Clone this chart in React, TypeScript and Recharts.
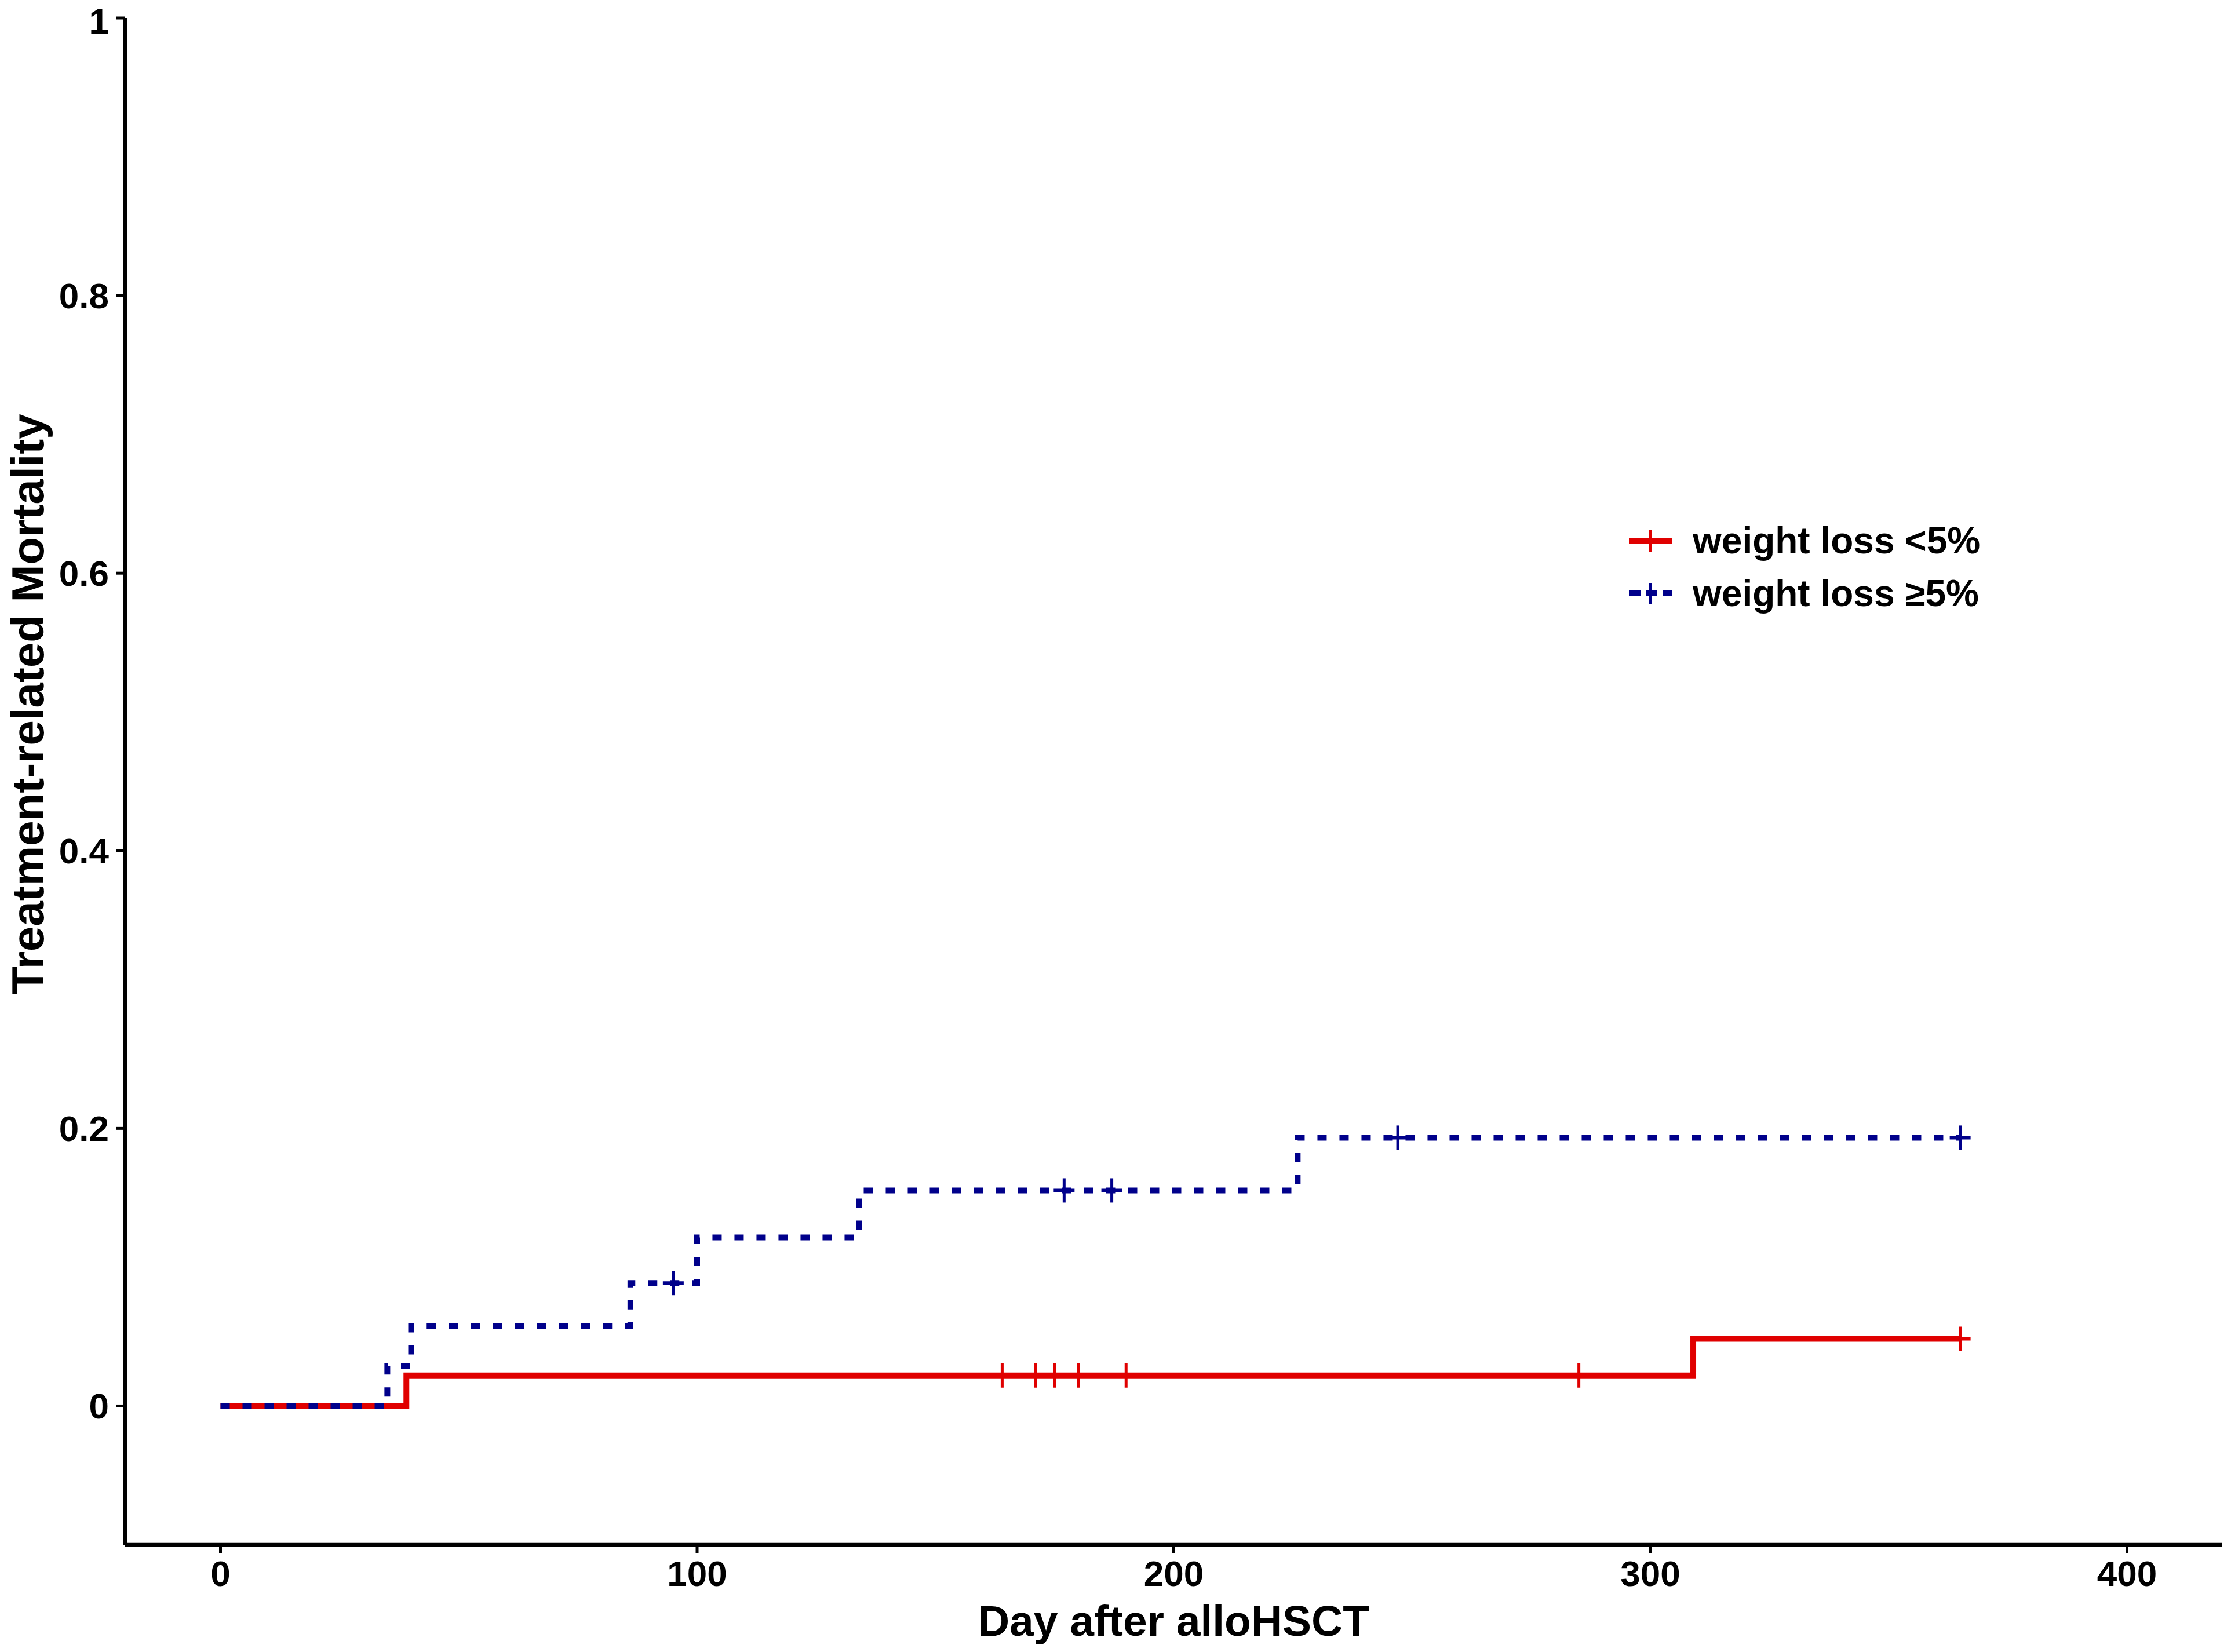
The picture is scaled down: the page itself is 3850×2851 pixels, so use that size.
import React from "react";
import {
  ComposedChart,
  Line,
  Scatter,
  XAxis,
  YAxis,
  Label,
} from "recharts";

// step points of the cumulative incidence curves (day, value)
const daysLow = [0, 39, 309, 365];
const trmLow = [0, 0.022, 0.0484, 0.0484];
const daysHigh = [0, 35, 40, 86, 100, 134, 226, 365];
const trmHigh = [0, 0.0286, 0.0577, 0.0886, 0.1215, 0.1553, 0.1933, 0.1933];

// censoring times
const censorLow = [164, 171, 175, 180, 190, 285, 365];
const censorHigh = [95, 177, 187, 247, 365];

const xTicks = [0, 100, 200, 300, 400];
const yTicks = [0, 0.2, 0.4, 0.6, 0.8, 1];

const RED = "#e00000";
const BLUE = "#00008b";
const FONT = "'Liberation Sans', Arial, sans-serif";

function valueAt(days: number[], vals: number[], t: number): number {
  let v = vals[0];
  for (let i = 0; i < days.length; i++) if (days[i] <= t) v = vals[i];
  return v;
}

const lowData = daysLow.map((x, i) => ({ x, y: trmLow[i] }));
const highData = daysHigh.map((x, i) => ({ x, y: trmHigh[i] }));
const lowCensor = censorLow.map((x) => ({ x, y: valueAt(daysLow, trmLow, x) }));
const highCensor = censorHigh.map((x) => ({ x, y: valueAt(daysHigh, trmHigh, x) }));

function censorMark(color: string) {
  return (props: any) => {
    const { cx, cy } = props;
    if (cx == null || cy == null) return <g />;
    return (
      <g>
        <line x1={cx} x2={cx} y1={cy - 21} y2={cy + 21} stroke={color} strokeWidth={5} />
        <line x1={cx - 18} x2={cx + 18} y1={cy} y2={cy} stroke={color} strokeWidth={6} />
      </g>
    );
  };
}

function KeyLegend() {
  return (
    <svg width={720} height={200}>
      <line x1={21} x2={95} y1={53} y2={53} stroke={RED} strokeWidth={10} />
      <line x1={58} x2={58} y1={35} y2={72} stroke={RED} strokeWidth={6} />
      <text x={131} y={75} fontFamily={FONT} fontWeight="bold" fontSize={64} fill="#000">
        weight loss &lt;5%
      </text>
      <line x1={21} x2={95} y1={144} y2={144} stroke={BLUE} strokeWidth={10} strokeDasharray="20 9" />
      <line x1={58} x2={58} y1={126} y2={163} stroke={BLUE} strokeWidth={6} />
      <text x={131} y={166} fontFamily={FONT} fontWeight="bold" fontSize={64} fill="#000">
        weight loss ≥5%
      </text>
    </svg>
  );
}

export default function App() {
  const tick = { fontSize: 62, fontWeight: "bold", fill: "#000", fontFamily: FONT };
  return (
    <div style={{ position: "absolute", left: 0, top: 0, width: 3850, height: 2851, background: "#fff" }}>
      <ComposedChart
        width={3850}
        height={2851}
        margin={{ top: 31, right: 15, bottom: 15, left: 16 }}
      >
        <XAxis
          dataKey="x"
          type="number"
          domain={[-20, 420]}
          ticks={xTicks}
          allowDataOverflow
          height={170}
          tick={tick}
          tickSize={15}
          tickMargin={12}
          axisLine={{ stroke: "#000", strokeWidth: 6.5 }}
          tickLine={{ stroke: "#000", strokeWidth: 5 }}
        >
          <Label
            content={({ viewBox }: any) => (
              <text
                x={viewBox.x + viewBox.width / 2}
                y={viewBox.y + 157}
                textAnchor="middle"
                fontFamily={FONT}
                fontWeight="bold"
                fontSize={75}
                fill="#000"
              >
                Day after alloHSCT
              </text>
            )}
          />
        </XAxis>
        <YAxis
          dataKey="y"
          type="number"
          domain={[-0.1, 1]}
          ticks={yTicks}
          allowDataOverflow
          width={200}
          tick={tick}
          tickSize={15}
          tickMargin={13}
          axisLine={{ stroke: "#000", strokeWidth: 6.5 }}
          tickLine={{ stroke: "#000", strokeWidth: 5 }}
        >
          <Label
            content={() => (
              <text
                x={75}
                y={1215}
                transform="rotate(-90, 75, 1215)"
                textAnchor="middle"
                fontFamily={FONT}
                fontWeight="bold"
                fontSize={78}
                fill="#000"
              >
                Treatment-related Mortality
              </text>
            )}
          />
        </YAxis>
        <Line
          data={lowData}
          dataKey="y"
          type="stepAfter"
          stroke={RED}
          strokeWidth={10}
          dot={false}
          activeDot={false}
          isAnimationActive={false}
          name="weight loss <5%"
        />
        <Line
          data={highData}
          dataKey="y"
          type="stepAfter"
          stroke={BLUE}
          strokeWidth={10}
          strokeDasharray="16 22"
          dot={false}
          activeDot={false}
          isAnimationActive={false}
          name="weight loss ≥5%"
        />
        <Scatter data={lowCensor} dataKey="y" shape={censorMark(RED)} isAnimationActive={false} />
        <Scatter data={highCensor} dataKey="y" shape={censorMark(BLUE)} isAnimationActive={false} />
      </ComposedChart>
      <div style={{ position: "absolute", left: 2790, top: 880 }}>
        <KeyLegend />
      </div>
    </div>
  );
}
